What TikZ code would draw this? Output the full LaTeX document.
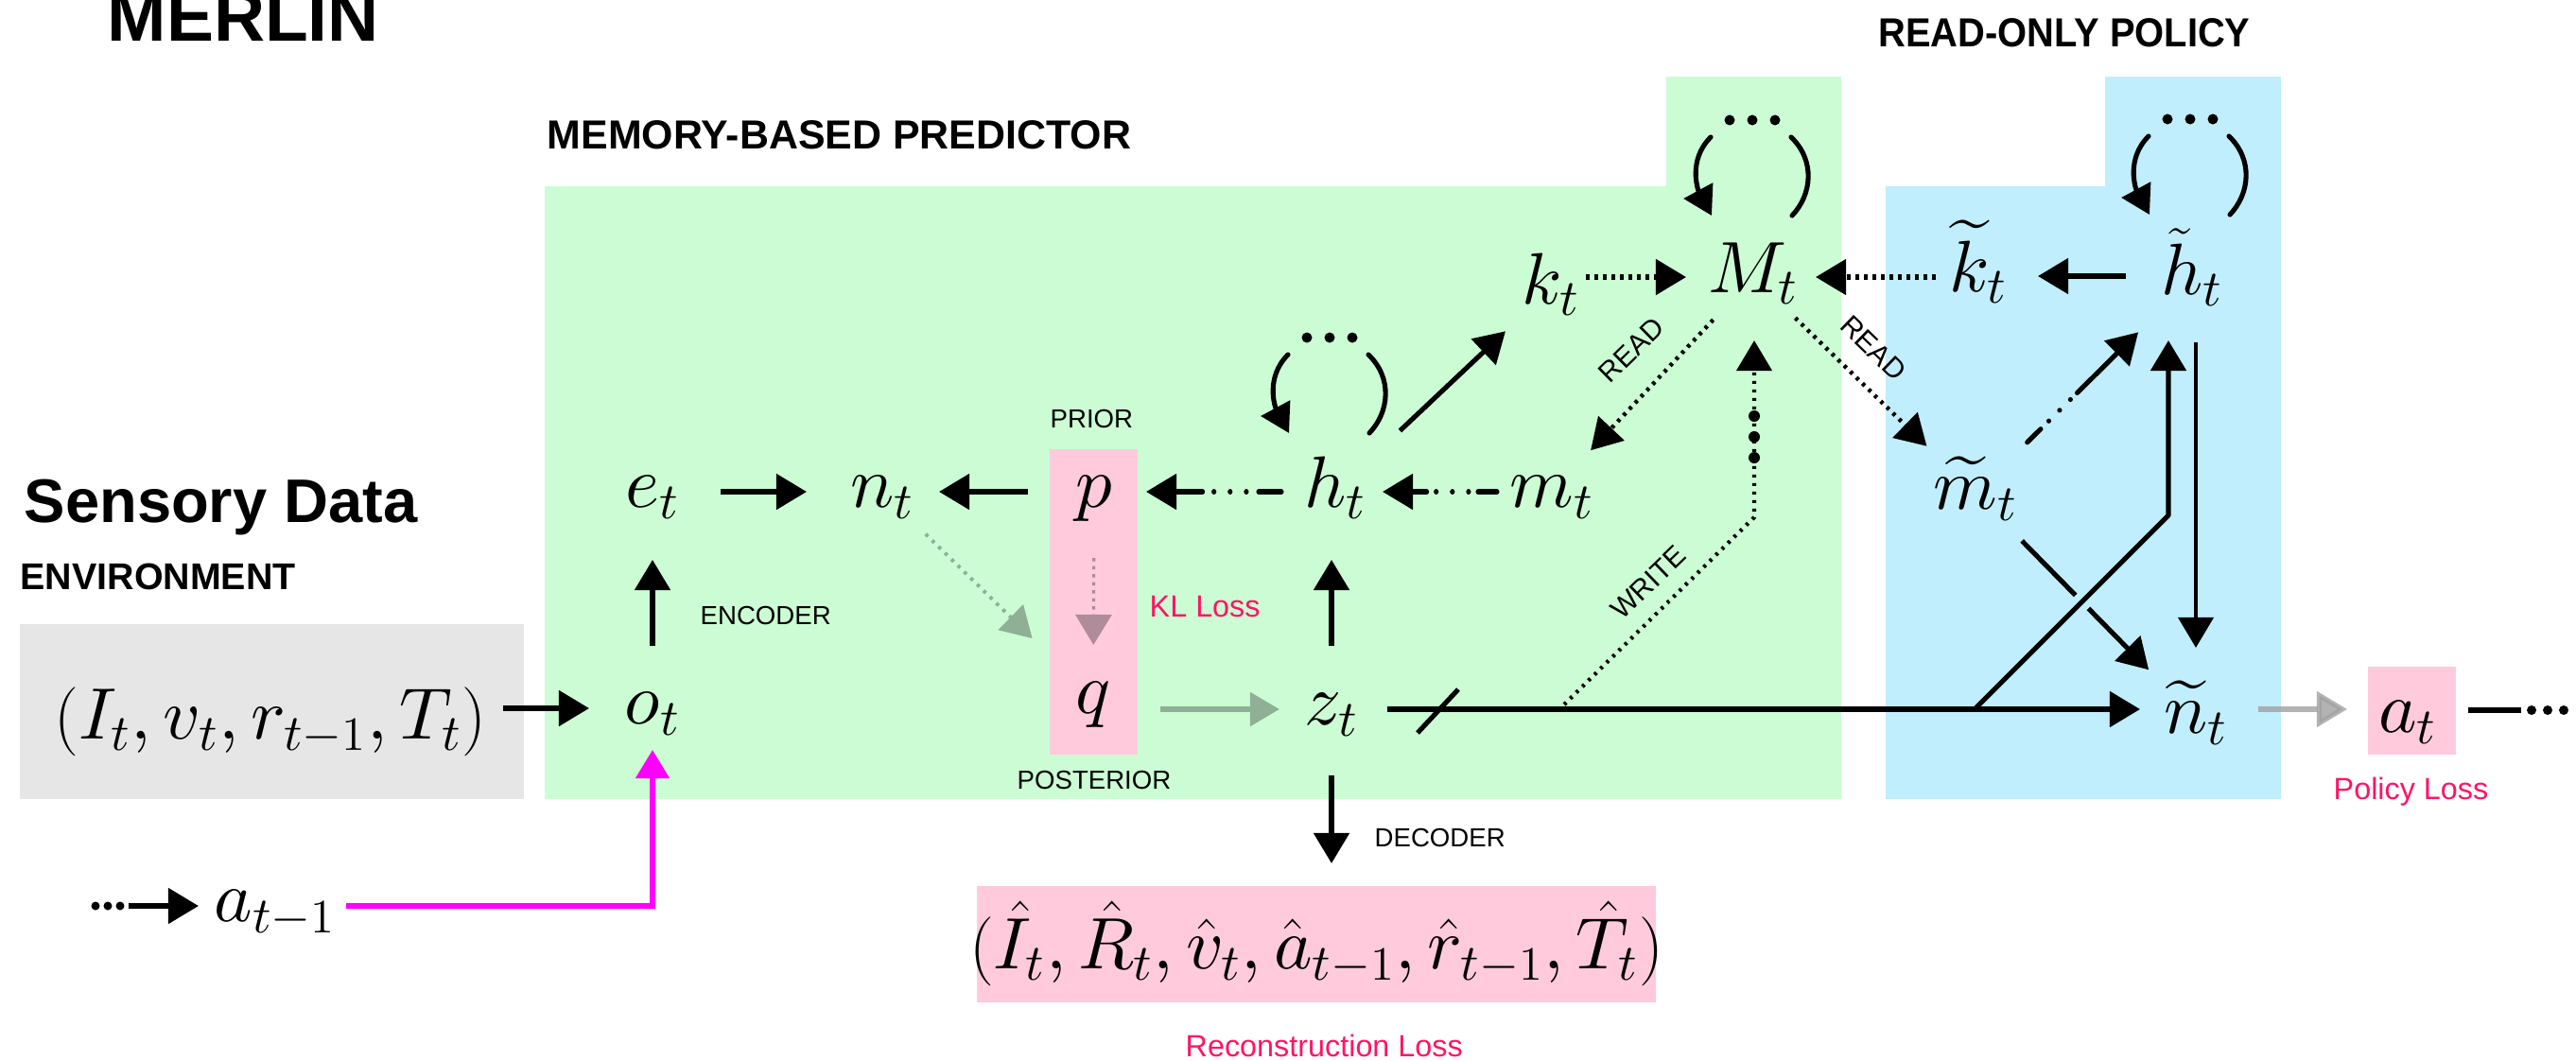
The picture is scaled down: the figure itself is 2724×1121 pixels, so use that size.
\documentclass[tikz,border=0pt]{standalone}
\usepackage{fontspec}
\DeclareFontShape{OML}{cmm}{m}{it}{<->cmmi10}{}
\DeclareFontShape{OMS}{cmsy}{m}{n}{<->cmsy10}{}
\DeclareFontShape{OMX}{cmex}{m}{n}{<->cmex10}{}
\newfontfamily\lsans{Liberation Sans}
\usetikzlibrary{arrows.meta,calc}
\definecolor{grn}{RGB}{204,252,212}
\definecolor{blu}{RGB}{192,238,252}
\definecolor{gry}{RGB}{230,230,230}
\definecolor{pnk}{RGB}{255,202,220}
\definecolor{lossred}{RGB}{255,20,100}
\definecolor{sage}{RGB}{143,175,150}
\definecolor{mauve}{RGB}{174,140,154}
\definecolor{mag}{RGB}{255,0,255}
\definecolor{agray}{RGB}{160,160,160}
\begin{document}
\begin{tikzpicture}[x=0.01cm,y=-0.01cm,
  mn/.style={inner sep=0pt, font=\fontsize{21.9}{26}\selectfont, text height=0.50cm, text depth=0.17cm},
  tipA/.style={-{Triangle[length=0.32cm,width=0.37cm]}},
  arw/.style={line width=1.45pt, tipA},
  ddarw/.style={arw, line cap=round, dash pattern=on 0.24cm off 0.13cm on 0.001cm off 0.17cm on 0.001cm off 0.17cm on 0.001cm off 0.12cm on 4cm},
  dotarw/.style={line width=1.45pt, dash pattern=on 0.035cm off 0.055cm, tipA},
  sagedot/.style={line width=1.1pt, draw=sage, dash pattern=on 0.035cm off 0.06cm, -{Triangle[length=0.32cm,width=0.37cm,fill=sage]}},
  mauvedot/.style={line width=0.9pt, draw=mauve, dash pattern=on 0.035cm off 0.05cm, -{Triangle[length=0.32cm,width=0.38cm,fill=mauve]}},
  sagearw/.style={line width=1.45pt, draw=sage, -{Triangle[length=0.31cm,width=0.35cm,fill=sage]}},
  grayarw/.style={line width=1.45pt, draw=agray, draw opacity=0.8, -{Triangle[length=0.32cm,width=0.37cm,fill=agray!80]}},
  magarw/.style={line width=1.45pt, draw=mag, -{Triangle[length=0.30cm,width=0.35cm,fill=mag]}},
  lab/.style={inner sep=0pt, anchor=base west, font=\lsans\fontsize{7.85}{9}\selectfont},
  rlab/.style={inner sep=0pt, font=\lsans\fontsize{8.5}{10}\selectfont},
  redlab/.style={inner sep=0pt, anchor=base west, text=lossred, font=\lsans\fontsize{9.2}{11}\selectfont},
  hd/.style={inner sep=0pt, anchor=base west, font=\lsans\bfseries\fontsize{12.2}{14}\selectfont},
  rloop/.pic={
    \fill (-25,-163) circle[radius=0.055cm] (-1,-163) circle[radius=0.055cm] (23,-163) circle[radius=0.055cm];
    \draw[line width=1.45pt, line cap=round, -{Triangle[length=0.30cm,width=0.34cm]}] (-45,-145) .. controls (-70,-120) and (-58,-88) .. (-44,-62);
    \draw[line width=1.45pt, line cap=round] (40,-145) .. controls (66,-120) and (62,-84) .. (41,-62);
  }
]
\useasboundingbox (0,0) rectangle (2724,1121);
\clip (0,0) rectangle (2724,1121);

% backgrounds
\fill[grn] (576,197) rectangle (1947,845);
\fill[grn] (1762,81) rectangle (1947,198);
\fill[blu] (1994,197) rectangle (2412,845);
\fill[blu] (2226,81) rectangle (2412,198);
\fill[gry] (21,660) rectangle (554,845);
\fill[pnk] (1110,475) rectangle (1203,798);
\fill[pnk] (1033,937) rectangle (1751,1060);
\fill[pnk] (2504,705) rectangle (2597,798);

% headings
\node[inner sep=0pt, anchor=base west, font=\lsans\bfseries\fontsize{21.3}{24}\selectfont] (merlin) at (113,43) {MERLIN};
\node[hd] (mbp) at (578,157) {MEMORY-BASED PREDICTOR};
\node[hd, anchor=base] (rop) at (2183,50) {\scalebox{0.93}[1]{READ-ONLY POLICY}};
\node[inner sep=0pt, anchor=base west, font=\lsans\bfseries\fontsize{18.5}{22}\selectfont] (sens) at (25,552) {Sensory Data};
\node[inner sep=0pt, anchor=base west, font=\lsans\bfseries\fontsize{11.2}{13}\selectfont] (envt) at (21,623) {ENVIRONMENT};

% small labels
\node[lab] (encl) at (740,660) {ENCODER};
\node[lab] (priorl) at (1110,452) {PRIOR};
\node[lab] (postl) at (1075,834) {POSTERIOR};
\node[lab] (decl) at (1453,895) {DECODER};
\node[redlab] (kll) at (1215,652) {KL Loss};
\node[redlab] (recl) at (1253,1117) {Reconstruction Loss};
\node[redlab] (poll) at (2467,845) {Policy Loss};
\node[rlab, rotate=44.6] (read1) at (1725,370) {READ};
\node[rlab, rotate=-44] (read2) at (1981,368) {READ};
\node[rlab, rotate=44] (writel) at (1743,616) {WRITE};

% math nodes
\node[mn] (e) at (690,520) {$e_t$};
\node[mn] (n) at (933,520) {$n_t$};
\node[mn] (p) at (1157,520) {$p$};
\node[mn] (h) at (1412,520) {$h_t$};
\node[mn] (m) at (1641,520) {$m_t$};
\node[mn] (k) at (1640,305) {$k_t$};
\node[mn] (M) at (1854,293) {$M_t$};
\node[mn] (kt) at (2092,292) {$\widetilde{k}_t$};
\node[mn] (ht) at (2318,295) {$\tilde{h}_t$};
\node[mn] (mt) at (2089,522) {$\widetilde{m}_t$};
\node[mn] (q) at (1156,738) {$q$};
\node[mn] (z) at (1408,750) {$z_t$};
\node[mn] (o) at (690,749) {$o_t$};
\node[mn] (nt) at (2322,759) {$\widetilde{n}_t$};
\node[mn] (a) at (2546,758) {$a_t$};
\node[mn] (env) at (286,765) {$(I_t, v_t, r_{t-1}, T_t)$};
\node[mn] (am) at (291,958) {$a_{t-1}$};
\node[mn] (rec) at (1392,1008) {$(\hat{I}_t, \hat{R}_t, \hat{v}_t, \hat{a}_{t-1}, \hat{r}_{t-1}, \hat{T}_t)$};

% loops
\pic at (1407,520) {rloop};
\pic at (1854,290) {rloop};
\pic at (2317,289) {rloop};

% connectors
\draw[arw, shorten <=0.17cm, shorten >=0.67cm] (env.east |- o.center) -- (o.center);
\draw[arw, shorten <=0.66cm, shorten >=0.72cm] (o.center) -- (e.center);
\draw[magarw, shorten <=0.10cm, shorten >=0.44cm] (am.east) -| (o.center);
\coordinate (adots) at (98,958);
\fill (101,958) circle[radius=0.045cm] (114,958) circle[radius=0.045cm] (127,958) circle[radius=0.045cm];
\draw[arw, shorten <=0.38cm, shorten >=0.81cm] (adots) -- (am.center);

\draw[arw, shorten <=0.72cm, shorten >=0.80cm] (e.center) -- (n.center);
\draw[arw, shorten <=0.70cm, shorten >=0.60cm] (p.center) -- (n.center);
\draw[ddarw, shorten <=0.57cm, shorten >=0.55cm] (h.center) -- (p.center);
\draw[ddarw, dash pattern=on 0.20cm off 0.10cm on 0.001cm off 0.17cm on 0.001cm off 0.17cm on 0.001cm off 0.10cm on 4cm, shorten <=0.58cm, shorten >=0.50cm] (m.center) -- (h.center);
\draw[sagedot, shorten <=0.64cm, shorten >=0.90cm] (n.center) -- (q.center);
\draw[mauvedot, shorten <=0.70cm, shorten >=0.56cm] (p.center) -- (q.center);
\draw[sagearw, shorten <=0.71cm, shorten >=0.55cm] (q.center |- z.center) -- (z.center);
\draw[arw, shorten <=0.67cm, shorten >=0.72cm] (z.center) -- (z.center |- h.center);
\draw[arw, shorten <=0.70cm, shorten >=0.95cm] (z.center) -- (z.center |- rec.center);
\draw[arw, shorten <=0.94cm, shorten >=0.66cm] (h.center) -- (k.center);
\draw[dotarw, shorten <=0.37cm, shorten >=0.71cm] (k.center |- M.center) -- (M.center);
\draw[dotarw, shorten <=0.45cm, shorten >=0.66cm] (kt.center |- M.center) -- (M.center);
\draw[arw, shorten <=0.70cm, shorten >=0.63cm] (ht.center |- kt.center) -- (kt.center);
\draw[dotarw, line width=1.25pt, shorten <=0.62cm, shorten >=0.60cm] (M.center) -- (m.center);
\draw[dotarw, line width=1.25pt, shorten <=0.62cm, shorten >=0.72cm] (M.center) -- (mt.center);
\draw[arw, line cap=round, dash pattern=on 0.20cm off 0.12cm on 0.001cm off 0.16cm on 0.001cm off 0.16cm on 0.001cm off 0.10cm on 4cm, shorten <=0.77cm, shorten >=0.80cm] (mt.center) -- (ht.center);
\draw[arw, shorten <=0.70cm, shorten >=0.71cm] (mt.center) -- (nt.center);

% WRITE path
\coordinate (wr) at (1654,745);
\coordinate (wk) at (1855,547);
\draw[line width=1.2pt, dash pattern=on 0.03cm off 0.06cm, line join=round, tipA, shorten >=0.67cm] (wr) -- (wk) -- (wk |- M.center);
\fill (1855,440) circle[radius=0.06cm] (1855,462) circle[radius=0.06cm] (1855,484) circle[radius=0.06cm];

% z to n tilde
\draw[arw, shorten <=0.59cm, shorten >=0.59cm] (z.center) -- (z.center -| nt.center);
\coordinate (sl) at (1520,752);
\draw[line width=1.45pt] (sl) ++(-21,23) -- ++(43,-46);

% branch to h tilde
\coordinate (br) at (2088,750);
\coordinate (bk) at (2293,545);
\draw[blu, line width=5.5pt] ($(br)!0.45!(bk)$) -- ($(br)!0.70!(bk)$);
\draw[arw, line join=round, shorten >=0.65cm] (br) -- (bk) -- (bk |- ht.center);
\draw[line width=1.15pt, tipA, shorten <=0.67cm, shorten >=0.74cm] ([xshift=0.04cm]ht.center) -- ([xshift=0.04cm]ht.center |- nt.center);

% to action
\draw[grayarw, shorten <=0.66cm, shorten >=0.64cm] (nt.center |- z.center) -- (a.center |- z.center);
\coordinate (ae) at (2666,751);
\draw[line width=1.7pt, shorten <=0.64cm] (a.center |- ae) -- (ae);
\fill (2677,751) circle[radius=0.05cm] (2694,751) circle[radius=0.05cm] (2711,751) circle[radius=0.05cm];
\end{tikzpicture}
\end{document}
